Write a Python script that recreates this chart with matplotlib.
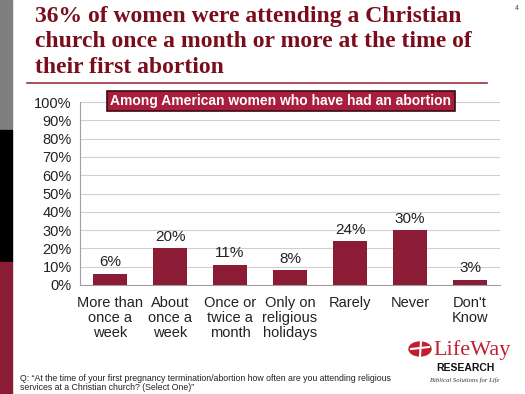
import matplotlib
matplotlib.use("Agg")
import matplotlib.pyplot as plt
from matplotlib.patches import Rectangle, Ellipse

categories = ["More than\nonce a\nweek", "About\nonce a\nweek", "Once or\ntwice a\nmonth",
              "Only on\nreligious\nholidays", "Rarely", "Never", "Don't\nKnow"]
values = [6, 20, 11, 8, 24, 30, 3]
yticks = [0, 10, 20, 30, 40, 50, 60, 70, 80, 90, 100]

title = "36% of women were attending a Christian\nchurch once a month or more at the time of\ntheir first abortion"
subtitle = "Among American women who have had an abortion"
footnote = ("Q: \u201cAt the time of your first pregnancy termination/abortion how often are you attending religious\n"
            "services at a Christian church? (Select One)\u201d")

bar_color = "#8c1c36"
title_color = "#7a0d1c"
logo_red = "#c0202e"

plt.rcParams["font.family"] = ["Liberation Sans", "DejaVu Sans"]

fig = plt.figure(figsize=(5.25, 3.94), dpi=100)
W, H = 525.0, 394.0

def fx(px):
    return px / W

def fy(py):
    return 1 - py / H

# left side strip
fig.patches.append(Rectangle((0, fy(130)), fx(12), 130 / H, transform=fig.transFigure,
                             color="#7f7f7f", zorder=0))
fig.patches.append(Rectangle((0, fy(262)), fx(12), 132 / H, transform=fig.transFigure,
                             color="#000000", zorder=0))
fig.patches.append(Rectangle((0, 0), fx(12), fy(262), transform=fig.transFigure,
                             color=bar_color, zorder=0))

# title
fig.text(fx(35), fy(6), title, ha="left", va="top", fontsize=17, fontweight="bold",
         family="Liberation Serif", color=title_color, linespacing=1.28)
fig.add_artist(plt.Line2D([fx(27), fx(487)], [fy(83)] * 2, color="#a0303f", lw=1.2))
fig.text(fx(517), fy(8), "4", fontsize=5, ha="center", va="center", color="#444444")

ax = fig.add_axes([fx(80), fy(285), 420 / W, 183 / H])
x = range(len(categories))
ax.bar(x, values, width=0.57, color=bar_color, zorder=3)
for xi, v in zip(x, values):
    ax.text(xi, v + 2.5, f"{v}%", ha="center", va="bottom", fontsize=11, color="#222222")

ax.set_xlim(-0.5, len(categories) - 0.5)
ax.set_ylim(0, 100)
ax.set_yticks(yticks)
ax.set_yticklabels([f"{t}%" for t in yticks], fontsize=10.5)
ax.set_xticks(list(x))
ax.set_xticklabels(categories, fontsize=10.5, linespacing=1.1)
ax.tick_params(axis="y", length=0, pad=6, colors="#222222")
ax.tick_params(axis="x", length=0, pad=8, colors="#222222")
ax.grid(axis="y", color="#d0d0d0", lw=0.8, zorder=0)
for s in ["top", "right"]:
    ax.spines[s].set_visible(False)
ax.spines["left"].set_color("#a0a0a0")
ax.spines["bottom"].set_color("#a0a0a0")

# subtitle box
fig.patches.append(Rectangle((fx(107), fy(111)), 348 / W, 20 / H, transform=fig.transFigure,
                             facecolor="#a81e3c", edgecolor="#3a0a12", lw=1.2, zorder=5))
fig.text(fx(281), fy(101), subtitle, ha="center", va="center", fontsize=10,
         fontweight="bold", color="white", zorder=6)

fig.text(fx(20), fy(383), footnote, ha="left", va="center", fontsize=6.3,
         color="#222222", linespacing=1.1)

# logo
fig.patches.append(Ellipse((fx(420), fy(349)), 22 / W, 14 / H, transform=fig.transFigure,
                           color=logo_red, zorder=5))
fig.add_artist(plt.Line2D([fx(411), fx(429)], [fy(349), fy(347)], color="white", lw=1.5, zorder=6))
fig.add_artist(plt.Line2D([fx(421), fx(420)], [fy(342), fy(356)], color="white", lw=1.5, zorder=6))
fig.text(fx(433), fy(350), "LifeWay", ha="left", va="center", fontsize=16,
         family="Liberation Serif", color=logo_red)
fig.text(fx(465), fy(368), "RESEARCH", ha="center", va="center", fontsize=7.5,
         fontweight="bold", color="#111111")
fig.text(fx(465), fy(380), "Biblical Solutions for Life", ha="center", va="center",
         fontsize=4.8, style="italic", family="Liberation Serif", color="#333333")

fig.savefig("out.png", dpi=100)
